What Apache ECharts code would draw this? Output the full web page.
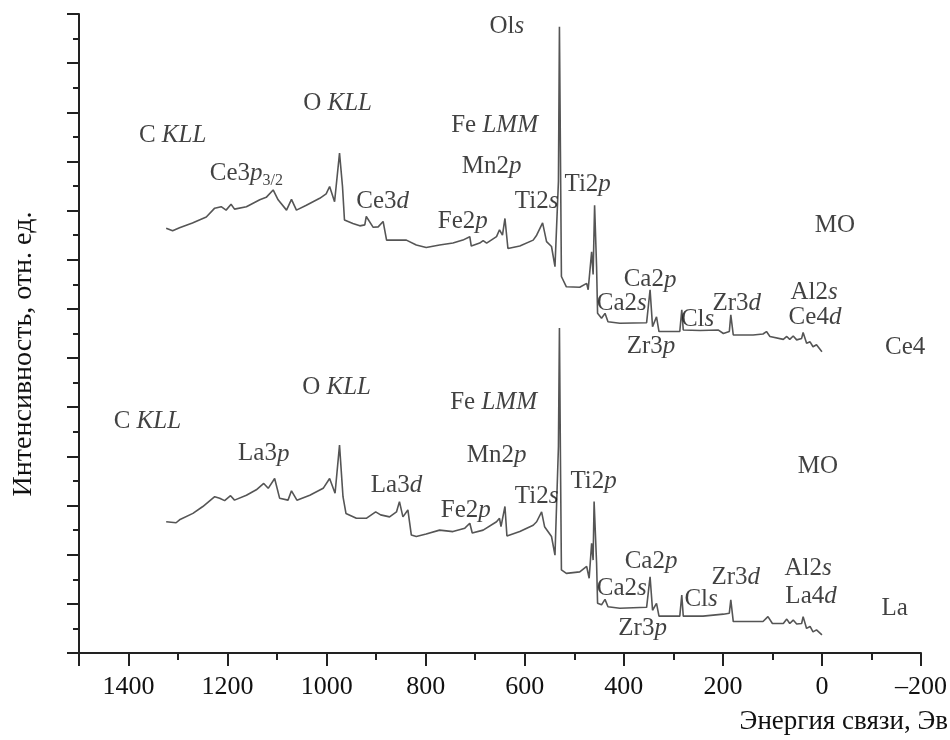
<!DOCTYPE html>
<html>
<head>
<meta charset="utf-8">
<script src="https://cdn.jsdelivr.net/npm/echarts@6/dist/echarts.min.js"></script>
<style>
  html, body { margin: 0; padding: 0; background: #fff; }
  #chart { width: 950px; height: 740px; }
</style>
</head>
<body>
<div id="chart"></div>
<script>
// binding energy (eV), intensity (arb. units, axis 0..13)
const ce4Spectrum = [
  [1324, 8.64], [1311, 8.59], [1297, 8.65], [1271, 8.75], [1243, 8.87], [1226, 9.05],
  [1213, 9.08], [1203, 9.01], [1193, 9.13], [1186, 9.03], [1162, 9.08], [1135, 9.22],
  [1122, 9.27], [1108, 9.42], [1098, 9.22], [1081, 9.01], [1071, 9.23], [1061, 9.01],
  [1041, 9.11], [1014, 9.25], [1001, 9.34], [994, 9.49], [984, 9.18], [974, 10.17],
  [968, 9.49], [964, 8.81], [947, 8.74], [933, 8.69], [923, 8.71], [920, 8.88],
  [906, 8.66], [896, 8.67], [886, 8.78], [879, 8.40], [859, 8.40], [839, 8.40],
  [819, 8.30], [799, 8.25], [772, 8.30], [745, 8.34], [725, 8.40], [711, 8.47],
  [708, 8.28], [691, 8.34], [684, 8.39], [677, 8.34], [657, 8.47], [651, 8.61],
  [645, 8.50], [640, 8.84], [634, 8.23], [610, 8.28], [583, 8.40], [576, 8.50],
  [564, 8.75], [556, 8.37], [546, 8.27], [539, 7.86], [535, 7.85], [532, 9.6],
  [530, 12.74], [528, 10.2], [526, 7.66], [516, 7.45], [489, 7.44], [475, 7.52],
  [472, 7.39], [465, 8.16], [462, 7.7], [459, 9.11], [455, 7.86], [453, 6.91],
  [445, 6.81], [438, 6.91], [432, 6.74], [408, 6.71], [354, 6.72], [347, 7.39],
  [342, 6.64], [334, 6.84], [329, 6.54], [287, 6.54], [283, 6.98], [280, 6.57],
  [246, 6.56], [209, 6.57], [199, 6.50], [187, 6.54], [184, 6.88], [179, 6.47],
  [139, 6.47], [119, 6.49], [112, 6.54], [105, 6.44], [78, 6.38], [71, 6.44],
  [65, 6.38], [58, 6.45], [51, 6.37], [41, 6.40], [38, 6.52], [31, 6.30],
  [24, 6.33], [18, 6.23], [11, 6.27], [0, 6.13]
];

const laSpectrum = [
  [1324, 2.67], [1304, 2.65], [1297, 2.71], [1270, 2.84], [1250, 2.98], [1226, 3.18],
  [1216, 3.15], [1206, 3.10], [1194, 3.20], [1186, 3.11], [1162, 3.21], [1142, 3.32],
  [1127, 3.45], [1118, 3.35], [1105, 3.55], [1095, 3.15], [1078, 3.11], [1071, 3.30],
  [1060, 3.11], [1034, 3.21], [1007, 3.35], [994, 3.55], [983, 3.25], [974, 4.23],
  [967, 3.18], [961, 2.84], [940, 2.74], [920, 2.74], [901, 2.87], [891, 2.81],
  [873, 2.77], [859, 2.87], [853, 3.08], [846, 2.77], [836, 2.91], [829, 2.40],
  [819, 2.37], [799, 2.42], [772, 2.50], [745, 2.47], [721, 2.54], [711, 2.64],
  [706, 2.44], [684, 2.50], [657, 2.67], [651, 2.74], [648, 2.57], [640, 2.98],
  [636, 2.38], [610, 2.47], [583, 2.60], [576, 2.67], [566, 2.87], [560, 2.57],
  [546, 2.37], [539, 1.99], [535, 2.03], [532, 4.2], [530, 6.61], [528, 4.0],
  [526, 1.69], [516, 1.62], [489, 1.65], [475, 1.76], [470, 1.52], [465, 2.23],
  [462, 1.89], [460, 3.08], [455, 1.83], [453, 1.01], [445, 0.98], [438, 1.09],
  [432, 0.94], [408, 0.91], [354, 0.93], [347, 1.55], [342, 0.87], [334, 1.01],
  [329, 0.75], [287, 0.75], [283, 1.18], [280, 0.75], [240, 0.75], [199, 0.79],
  [196, 0.75], [187, 0.81], [184, 1.08], [179, 0.64], [119, 0.64], [109, 0.74],
  [105, 0.77], [100, 0.60], [78, 0.60], [71, 0.69], [65, 0.60], [58, 0.67],
  [51, 0.59], [41, 0.60], [38, 0.74], [31, 0.50], [24, 0.54], [18, 0.43],
  [11, 0.47], [0, 0.37]
];

// peak labels: text, energy, level
const ce4Labels = [
  ['C {i|KLL}', 1311, 10.52], ['O {i|KLL}', 978, 11.19], ['Ce3{i|p}{sub|3/2}', 1162, 9.75],
  ['Ce3{i|d}', 887, 9.18], ['Fe2{i|p}', 725, 8.79], ['Fe {i|LMM}', 661, 10.74],
  ['Mn2{i|p}', 667, 9.89], ['Ti2{i|s}', 576, 9.18], ['Ol{i|s}', 636, 12.74],
  ['Ti2{i|p}', 473, 9.54], ['MO', -26, 8.69], ['Ca2{i|p}', 347, 7.59],
  ['Ca2{i|s}', 404, 7.12], ['Zr3{i|d}', 172, 7.12], ['Cl{i|s}', 251, 6.78],
  ['Zr3{i|p}', 345, 6.23], ['Al2{i|s}', 16, 7.34], ['Ce4{i|d}', 14, 6.82],
  ['Ce4', -168, 6.21]
];
const laLabels = [
  ['C {i|KLL}', 1362, 4.72], ['O {i|KLL}', 980, 5.41], ['La3{i|p}', 1127, 4.05],
  ['La3{i|d}', 859, 3.40], ['Fe2{i|p}', 719, 2.91], ['Fe {i|LMM}', 663, 5.09],
  ['Mn2{i|p}', 657, 4.01], ['Ti2{i|s}', 576, 3.19], ['Ti2{i|p}', 461, 3.50],
  ['MO', 8, 3.80], ['Ca2{i|p}', 345, 1.87], ['Ca2{i|s}', 404, 1.32],
  ['Zr3{i|d}', 174, 1.53], ['Cl{i|s}', 244, 1.08], ['Zr3{i|p}', 362, 0.49],
  ['Al2{i|s}', 28, 1.73], ['La4{i|d}', 22, 1.16], ['La', -147, 0.90]
];

const serif = 'Liberation Serif';
const ink = '#222';
const textInk = '#111';

const chart = echarts.init(document.getElementById('chart'));

const labelSeries = {
  type: 'scatter',
  silent: true,
  symbolSize: 1,
  itemStyle: { color: 'rgba(255,255,255,0)' },
  z: 5,
  label: {
    show: true,
    position: 'inside',
    align: 'center',
    verticalAlign: 'middle',
    fontFamily: serif,
    fontSize: 25,
    color: textInk,
    textBorderWidth: 0,
    formatter: p => p.name,
    rich: {
      i: { fontFamily: serif, fontSize: 25, fontStyle: 'italic', color: textInk, textBorderWidth: 0, verticalAlign: 'middle' },
      sub: { fontFamily: serif, fontSize: 16, color: textInk, textBorderWidth: 0, padding: [14, 0, 0, 0], verticalAlign: 'bottom' }
    }
  },
  data: ce4Labels.concat(laLabels).map(a => ({ name: a[0], value: [a[1], a[2]] }))
};

const option = {
  animation: false,
  backgroundColor: '#fff',
  grid: { left: 79, right: 29, top: 14, bottom: 87, containLabel: false },
  xAxis: {
    type: 'value',
    inverse: true,
    min: -200,
    max: 1500,
    interval: 200,
    axisLine: { onZero: false, lineStyle: { color: ink, width: 2 } },
    axisTick: { inside: false, length: 13, lineStyle: { color: ink, width: 2 } },
    minorTick: { show: true, splitNumber: 2, length: 7, lineStyle: { color: ink, width: 2 } },
    splitLine: { show: false },
    axisLabel: {
      fontFamily: serif, fontSize: 26, color: textInk, margin: 21, showMaxLabel: false,
      formatter: v => (v < 0 ? '\u2013' + (-v) : String(v))
    }
  },
  yAxis: {
    type: 'value',
    min: 0,
    max: 13,
    interval: 1,
    axisLine: { show: true, onZero: false, lineStyle: { color: ink, width: 2 } },
    axisTick: { show: true, inside: false, length: 12, lineStyle: { color: ink, width: 2 } },
    minorTick: { show: true, splitNumber: 2, length: 6, lineStyle: { color: ink, width: 2 } },
    splitLine: { show: false },
    axisLabel: { show: false }
  },
  graphic: [
    {
      type: 'text', x: 24, y: 354, rotation: Math.PI / 2,
      style: { text: 'Интенсивность, отн. ед.', font: '28px "Liberation Serif"', fill: textInk, align: 'center', verticalAlign: 'middle' }
    },
    {
      type: 'text', x: 948, y: 722,
      style: { text: 'Энергия связи, Эв', font: '27px "Liberation Serif"', fill: textInk, align: 'right', verticalAlign: 'middle' }
    }
  ],
  series: [
    {
      name: 'Ce4', type: 'line', showSymbol: false, silent: true,
      lineStyle: { color: '#555', width: 1.6 },
      data: ce4Spectrum
    },
    {
      name: 'La', type: 'line', showSymbol: false, silent: true,
      lineStyle: { color: '#555', width: 1.6 },
      data: laSpectrum
    },
    labelSeries
  ]
};

chart.setOption(option);
</script>
</body>
</html>
